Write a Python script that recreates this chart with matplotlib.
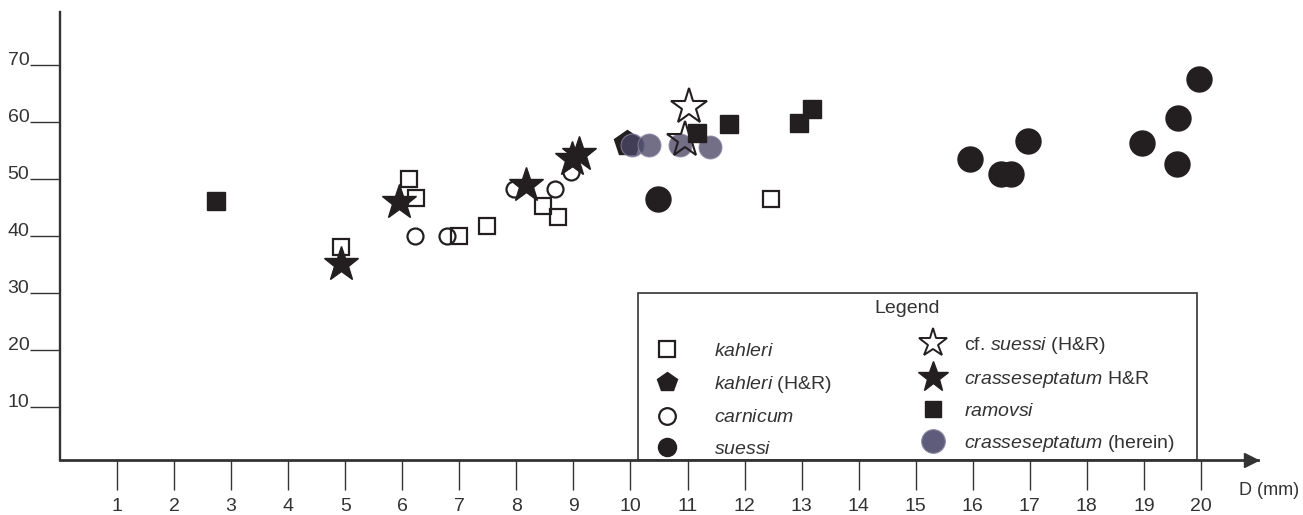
import matplotlib

matplotlib.use("Agg")
import matplotlib.pyplot as plt
from matplotlib.lines import Line2D
from matplotlib.patches import Rectangle

INK = "#231f20"
AXIS = "#333333"
HEREIN = "#4a4666"

x_ticks = list(range(1, 21))
y_ticks = [10, 20, 30, 40, 50, 60, 70]

# kahleri (open squares)
kahleri_d = [4.93, 6.11, 6.24, 7.0, 7.49, 8.46, 8.73, 12.46]
kahleri_v = [38.0, 49.9, 46.6, 40.0, 41.7, 45.2, 43.3, 46.4]

# carnicum (open circles)
carnicum_d = [6.23, 6.78, 7.95, 8.67, 8.96]
carnicum_v = [40.0, 40.0, 48.2, 48.2, 51.2]

# kahleri (H&R) (pentagon)
kahleri_hr_d = [9.94]
kahleri_hr_v = [56.2]

# crasseseptatum (herein)
herein_d = [10.03, 10.32, 10.86, 11.4]
herein_v = [55.9, 55.9, 55.9, 55.6]

# suessi (filled circles)
suessi_d = [10.49, 15.95, 16.49, 16.67, 16.96, 18.96, 19.6, 19.58, 19.96]
suessi_v = [46.4, 53.4, 50.8, 50.8, 56.6, 56.2, 60.6, 52.6, 67.5]

# crasseseptatum H&R (filled stars)
crass_hr_d = [4.93, 5.95, 8.16, 8.98, 9.09]
crass_hr_v = [35.1, 45.9, 48.8, 53.5, 54.4]

# cf. suessi (H&R) (open stars)
cf_suessi_d = [11.02, 10.96]
cf_suessi_v = [62.6, 56.8]

# ramovsi (filled squares)
ramovsi_d = [2.74, 11.17, 11.72, 12.96, 13.19]
ramovsi_v = [46.1, 58.0, 59.6, 59.8, 62.2]


def marker(**style) -> Line2D:
    return Line2D([], [], linestyle="none", **style)


def main() -> None:
    plt.rcParams["font.family"] = ["Liberation Sans", "DejaVu Sans"]
    plt.rcParams["mathtext.fontset"] = "custom"
    plt.rcParams["mathtext.rm"] = "Liberation Sans"
    plt.rcParams["mathtext.it"] = "Liberation Sans:italic"

    fig = plt.figure(figsize=(13.03, 5.15), dpi=100)
    ax = fig.add_axes([60 / 1303, 55 / 515, 1198 / 1303, 448 / 515])

    ax.plot(kahleri_d, kahleri_v, "s", ms=11, mfc="none", mec=INK, mew=1.6, linestyle="none")
    ax.plot(carnicum_d, carnicum_v, "o", ms=11.5, mfc="none", mec=INK, mew=1.6, linestyle="none")
    ax.plot(kahleri_hr_d, kahleri_hr_v, "p", ms=19, color=INK, linestyle="none")
    ax.plot(herein_d, herein_v, "o", ms=16.5, color=HEREIN, mec="#8a87a0", mew=0.8,
            alpha=0.78, linestyle="none")
    ax.plot(suessi_d, suessi_v, "o", ms=18, color=INK, linestyle="none")
    ax.plot(crass_hr_d, crass_hr_v, "*", ms=26, color=INK, linestyle="none")
    ax.plot(cf_suessi_d, cf_suessi_v, "*", ms=27, mfc="none", mec=INK, mew=1.5, linestyle="none")
    ax.plot(ramovsi_d, ramovsi_v, "s", ms=12.5, color=INK, linestyle="none")

    ax.set_xlim(0, 21.0)
    ax.set_ylim(0.7, 79.2)
    for side in ("top", "right"):
        ax.spines[side].set_visible(False)
    ax.spines["left"].set_linewidth(1.7)
    ax.spines["bottom"].set_linewidth(2.0)
    ax.spines["left"].set_color(AXIS)
    ax.spines["bottom"].set_color(AXIS)
    ax.plot(0.9942, 0, ">", ms=10, color=AXIS, transform=ax.transAxes, clip_on=False)

    ax.set_xticks(x_ticks)
    ax.set_xticklabels([str(t) for t in x_ticks])
    ax.set_yticks(y_ticks)
    ax.set_yticklabels([str(t) for t in y_ticks])
    ax.tick_params(axis="x", direction="out", length=21.6, width=1.0, color=AXIS,
                   pad=6, labelsize=14, labelcolor=AXIS)
    ax.tick_params(axis="y", direction="out", length=21.6, width=1.0, color=AXIS,
                   pad=0.5, labelsize=14, labelcolor=AXIS)
    for label in ax.get_yticklabels():
        label.set_verticalalignment("baseline")

    ax.set_xlabel("D (mm)", fontsize=13, color=AXIS)
    ax.xaxis.set_label_coords(0.9841, -0.067)
    ax.xaxis.label.set_horizontalalignment("left")
    ax.xaxis.label.set_verticalalignment("center")

    # legend box, title and two columns
    ax.add_patch(Rectangle((0.4825, 0.0), 0.4666, 0.3728, transform=ax.transAxes,
                           fill=False, edgecolor=AXIS, linewidth=1.2, clip_on=False, zorder=3))
    ax.text(0.707, 0.339, "Legend", transform=ax.transAxes, ha="center", va="center",
            fontsize=14, color=AXIS)

    left_handles = [
        marker(marker="s", ms=11, mfc="none", mec=INK, mew=1.6),
        marker(marker="p", ms=15, color=INK),
        marker(marker="o", ms=12, mfc="none", mec=INK, mew=1.6),
        marker(marker="o", ms=13, color=INK),
    ]
    left_labels = [
        r"$\it{kahleri}$",
        r"$\it{kahleri}$ (H&R)",
        r"$\it{carnicum}$",
        r"$\it{suessi}$",
    ]
    right_handles = [
        marker(marker="*", ms=21, mfc="white", mec=INK, mew=1.4),
        marker(marker="*", ms=23, color=INK),
        marker(marker="s", ms=12, color=INK),
        marker(marker="o", ms=17, color="#5f5b7a", mec="#8a87a0", mew=0.8),
    ]
    right_labels = [
        r"cf. $\it{suessi}$ (H&R)",
        r"$\it{crasseseptatum}$ H&R",
        r"$\it{ramovsi}$",
        r"$\it{crasseseptatum}$ (herein)",
    ]
    common = dict(loc="upper left", frameon=False, fontsize=14, numpoints=1,
                  handlelength=1.0, borderpad=0, borderaxespad=0, labelcolor=AXIS)
    legend_left = ax.legend(left_handles, left_labels, bbox_to_anchor=(0.4983, 0.262),
                            handletextpad=1.94, labelspacing=0.71, **common)
    ax.add_artist(legend_left)
    ax.legend(right_handles, right_labels, bbox_to_anchor=(0.7206, 0.279),
              handletextpad=1.1, labelspacing=0.66, **common)

    fig.savefig("out.png", dpi=100)
    plt.close(fig)


if __name__ == "__main__":
    main()
